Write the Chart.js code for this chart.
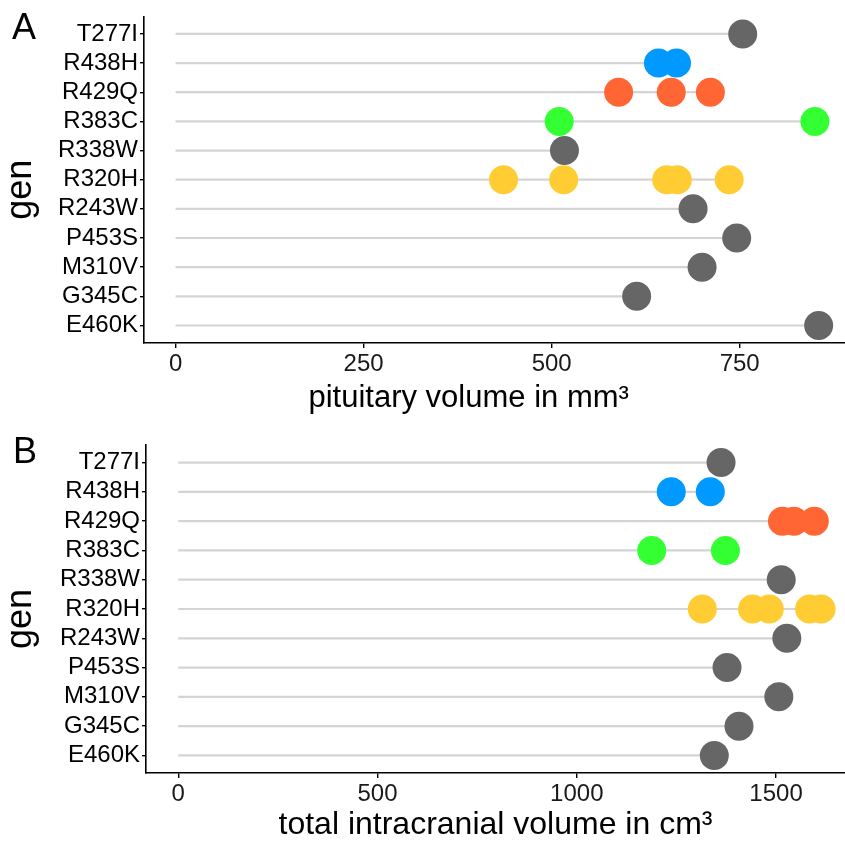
<!DOCTYPE html>
<html>
<head>
<meta charset="utf-8">
<script src="https://cdn.jsdelivr.net/npm/chart.js@4.4.1/dist/chart.umd.min.js"></script>
<style>
  body { margin: 0; background: #fff; }
  canvas { position: absolute; left: 0; }
  .tag { position: absolute; font: 36px "Liberation Sans", Arial, sans-serif; color: #000; line-height: 36px; }
</style>
</head>
<body>
<canvas id="chartA" width="845" height="420" style="top:0"></canvas>
<canvas id="chartB" width="845" height="423" style="top:420px"></canvas>
<div class="tag" style="left:12px; top:9px">A</div>
<div class="tag" style="left:13px; top:433px">B</div>
<script>
// genes from top to bottom of the plot
const genes = ['T277I', 'R438H', 'R429Q', 'R383C', 'R338W', 'R320H', 'R243W', 'P453S', 'M310V', 'G345C', 'E460K'];
const geneColors = ['#666666', '#0099FF', '#FF6633', '#33FF33', '#666666', '#FFCC33', '#666666', '#666666', '#666666', '#666666', '#666666'];

// pituitary volume, mm3
const pituitaryVolume = [[754], [642, 666], [589, 659, 711], [510, 850], [517], [436, 516, 653, 667, 736], [688], [746], [700], [613], [855]];
// total intracranial volume, cm3
const intracranialVolume = [[1362], [1237, 1335], [1516, 1545, 1596], [1188, 1373], [1513], [1315, 1441, 1483, 1584, 1613], [1527], [1377], [1507], [1407], [1345]];

const pituitaryTicks = [0, 250, 500, 750];
const intracranialTicks = [0, 500, 1000, 1500];

const FONT = '"Liberation Sans", Arial, Helvetica, sans-serif';

function rowOf(index) {
  return genes.length - index;
}

function makeChart(id, values, xTicks, xMin, xMax, title, layout) {
  const datasets = [];

  // dots
  values.forEach((list, index) => {
    datasets.push({
      type: 'scatter',
      order: 0,
      data: list.map(v => ({x: v, y: rowOf(index)})),
      backgroundColor: geneColors[index],
      borderWidth: 0,
      pointRadius: 14.5,
      pointHoverRadius: 14.5
    });
  });

  // grey segments from 0 to the largest value
  values.forEach((list, index) => {
    datasets.push({
      type: 'line',
      order: 1,
      data: [{x: 0, y: rowOf(index)}, {x: Math.max(...list), y: rowOf(index)}],
      borderColor: '#d4d4d4',
      borderWidth: 2.2,
      pointRadius: 0
    });
  });

  return new Chart(document.getElementById(id), {
    type: 'scatter',
    data: {datasets},
    options: {
      responsive: false,
      animation: false,
      devicePixelRatio: 1,
      layout: {autoPadding: false, padding: {top: layout.top, right: 0, bottom: 0, left: 0}},
      plugins: {legend: {display: false}, tooltip: {enabled: false}},
      scales: {
        x: {
          type: 'linear',
          min: xMin,
          max: xMax,
          afterBuildTicks: scale => { scale.ticks = xTicks.map(v => ({value: v})); },
          afterFit: scale => { scale.height = layout.xHeight; },
          border: {display: true, color: '#000', width: 1.6},
          grid: {drawOnChartArea: false, drawTicks: true, tickLength: 5, color: '#000', lineWidth: 1.4},
          ticks: {color: '#1a1a1a', font: {family: FONT, size: 24}, padding: 2, maxRotation: 0, callback: value => String(value)},
          title: {display: true, text: title, color: '#000', font: {family: FONT, size: layout.titleSize, lineHeight: 1}, padding: {top: 0, bottom: layout.titlePad}}
        },
        y: {
          type: 'linear',
          min: 0.4,
          max: genes.length + 0.6,
          afterBuildTicks: scale => { scale.ticks = genes.map((g, i) => ({value: rowOf(i)})); },
          afterFit: scale => { scale.width = layout.yWidth; },
          border: {display: true, color: '#000', width: 1.6},
          grid: {drawOnChartArea: false, drawTicks: true, tickLength: 4, color: '#000', lineWidth: 1.4},
          ticks: {
            color: '#000',
            font: {family: FONT, size: 24},
            padding: 2,
            callback: value => genes[genes.length - value]
          },
          // trailing spaces nudge the rotated title down a little, as in the original
          title: {display: true, text: 'gen  ', color: '#000', font: {family: FONT, size: 36, lineHeight: 1}, padding: {top: 3, bottom: 0}}
        }
      }
    }
  });
}

// the top title sits a bit left of the panel centre in the original
makeChart('chartA', pituitaryVolume, pituitaryTicks, -42, 890, 'pituitary volume in mm³' + '\u00a0'.repeat(6),
  {top: 15, yWidth: 144, xHeight: 77, titlePad: 6, titleSize: 31});
makeChart('chartB', intracranialVolume, intracranialTicks, -81, 1673, 'total intracranial volume in cm³',
  {top: 25, yWidth: 146, xHeight: 70, titlePad: 2, titleSize: 32});
</script>
</body>
</html>
